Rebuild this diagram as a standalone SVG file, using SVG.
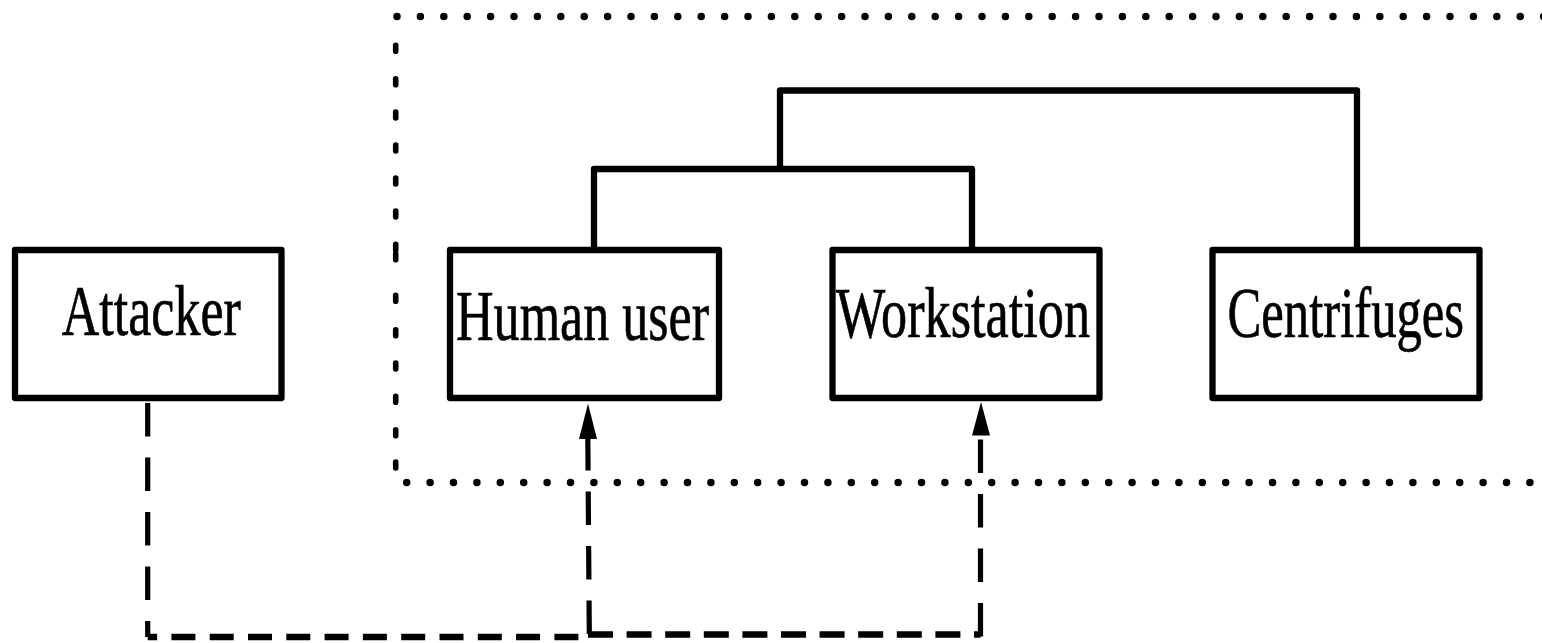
<svg xmlns="http://www.w3.org/2000/svg" width="1542" height="643" viewBox="0 0 1542 643">
<style>
.box{fill:#fff;stroke:#000;stroke-width:6.3;stroke-linejoin:round}
.lbl{font-family:"Liberation Serif","DejaVu Serif",serif;font-size:51px;fill:#000;stroke:#000;stroke-width:0.5;text-anchor:middle}
.tree{fill:none;stroke:#000;stroke-width:6.3;stroke-linejoin:round}
.hdot{fill:none;stroke:#000;stroke-width:7.5;stroke-linecap:round;stroke-dasharray:0 23.4}
.vdot{fill:none;stroke:#000;stroke-width:5.6;stroke-linecap:round}
.dh{fill:none;stroke:#000;stroke-width:6.5;stroke-dasharray:24 14.3}
.dv{fill:none;stroke:#000;stroke-width:5.2;stroke-dasharray:33.5 21}
.ah{fill:#000}
</style>
<rect width="1542" height="643" fill="#fff"/>
<g id="boundary">
<line class="hdot" x1="397" y1="16.5" x2="1560" y2="16.5"/>
<line class="hdot" x1="406.7" y1="482.5" x2="1560" y2="482.5"/>
<path class="vdot" d="M395.7,45.3v6M395.7,78.7v6M395.7,112v6M395.7,145v6M395.7,178v6M395.7,211v6M395.7,244.3v6M395.7,253.7v6M395.7,295.3v6M395.7,329.7v6M395.7,363v6M395.7,396.3v6M395.7,429.7v6M395.7,462v6"/>
</g>
<g id="connectors">
<path class="tree" d="M594,250V169H972V250"/>
<path class="tree" d="M780,169V90.5H1357V250"/>
<line class="dv" x1="147.7" y1="403" x2="147.7" y2="637"/>
<line class="dh" x1="147.7" y1="637" x2="589" y2="637" stroke-dashoffset="14.6"/>
<line class="dv" x1="589.3" y1="634" x2="587.8" y2="436"/>
<polygon class="ah" points="588,403.5 579,439 597,439"/>
<line class="dh" x1="588" y1="634.5" x2="980.5" y2="634.5" style="stroke-dasharray:25 13.6"/>
<line class="dv" x1="980.5" y1="636.5" x2="980.5" y2="434"/>
<polygon class="ah" points="981,402 972,435.5 990,435.5"/>
</g>
<g id="attacker">
<rect class="box" x="15" y="250" width="266.5" height="148"/>
<g transform="translate(151.3,335) scale(1,1.39)"><text class="lbl" x="0" y="0" textLength="179" lengthAdjust="spacingAndGlyphs">Attacker</text></g>
</g>
<g id="human-user">
<rect class="box" x="450" y="250" width="269" height="148"/>
<g transform="translate(582.5,339.5) scale(1,1.39)"><text class="lbl" x="0" y="0" textLength="253" lengthAdjust="spacingAndGlyphs">Human user</text></g>
</g>
<g id="workstation">
<rect class="box" x="832.5" y="250" width="267" height="148"/>
<g transform="translate(963,336.7) scale(1,1.39)"><text class="lbl" x="0" y="0" textLength="254" lengthAdjust="spacingAndGlyphs">Workstation</text></g>
</g>
<g id="centrifuges">
<rect class="box" x="1212.5" y="250" width="267" height="148"/>
<g transform="translate(1345.8,336.7) scale(1,1.39)"><text class="lbl" x="0" y="0" textLength="236.5" lengthAdjust="spacingAndGlyphs">Centrifuges</text></g>
</g>
</svg>
